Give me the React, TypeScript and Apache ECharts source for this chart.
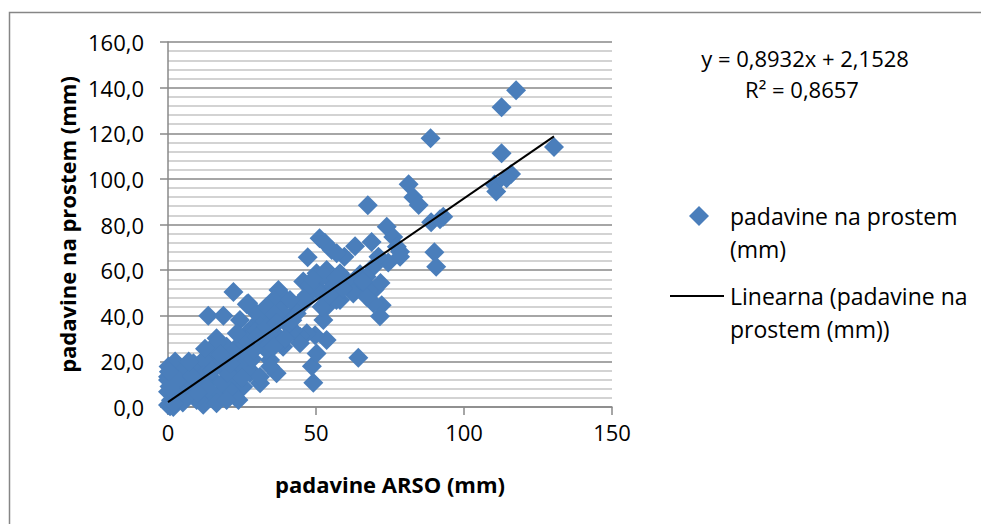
import React, { useEffect, useRef } from "react";
import * as echarts from "echarts";

// padavine ARSO (mm) — x values
const arsoMm: number[] = [
  117.6, 112.7, 88.7, 130.4, 112.7, 115.9, 114.4, 110.3, 110.9, 81.3, 82.9, 84.7, 67.5, 73.9, 88.9, 91.9, 93.0,
  76.1, 77.3, 78.4, 78.4, 74.4, 71.1, 68.8, 63.2, 59.6, 51.2, 53.0, 55.3, 57.0, 47.2, 90.0, 90.6, 69.8, 71.8,
  72.2, 71.6, 69.4, 64.3, 49.1, 48.6, 50.2, 53.6, 49.7, 46.9, 44.6, 42.3,
  45.7, 50.2, 53.6, 55.8, 51.4, 58.1, 53.6, 52.5, 64.9, 60.4, 69.4, 67.7, 62.6, 67.1, 63.7, 61.5, 52.5, 58.1,
  61.5, 55.8, 50.2, 46.9, 51.9, 56.9, 62.6, 67.1, 43.5, 46.9, 48.0, 54.5, 59.0, 57.0, 49.0, 66.0, 44.0,
  37.3, 40.1, 36.1, 32.2, 27.1, 22.1, 24.3, 28.8, 31.1, 34.5, 37.8, 36.1, 38.9, 36.7, 34.5, 31.1, 27.7, 26.0,
  23.2, 22.6, 19.8, 13.6, 18.7, 35.6, 26.6, 30.0, 33.3, 41.2, 43.5, 39.0, 35.6, 31.1, 26.6, 41.2, 44.6, 37.8,
  33.3, 38.0, 28.0, 30.0, 33.0, 40.5, 36.0, 42.0, 29.5, 24.5, 34.0, 39.5,
  16.4, 19.8, 15.3, 11.9, 9.7, 6.3, 1.8, 0.0, 2.9, 8.5, 13.1, 17.6, 11.9, 0.7, 23.2, 26.6, 31.1, 0.2, 2.4,
  0.0, 0.0, 0.0, 1.8, 5.2, 8.6, 11.9, 16.4, 20.9, 27.7, 31.1, 25.4, 21.5, 16.4, 9.7, 6.9, 4.1, 10.8, 14.8,
  18.1, 7.4, 23.8, 34.5, 35.6, 26.6, 23.2, 30.0, 33.3, 36.7, 19.8, 1.0, 3.5, 5.0, 12.0, 20.0, 17.0, 22.0,
  13.5, 3.0, 8.0, 15.0, 0.5, 2.0, 10.0, 25.0, 21.0, 18.0, 28.5, 29.0, 12.5, 7.0, 0.3,
];

// padavine na prostem (mm) — y values
const prostemMm: number[] = [
  138.8, 131.4, 117.8, 114.0, 111.2, 102.1, 100.3, 97.5, 94.5, 97.6, 92.0, 88.6, 88.4, 79.0, 81.0, 82.3, 83.4,
  74.5, 70.3, 68.1, 65.9, 63.3, 65.9, 72.3, 70.5, 65.9, 74.0, 72.0, 68.8, 67.4, 65.6, 67.8, 61.5, 51.5, 54.4,
  44.6, 39.8, 45.5, 21.6, 10.6, 17.9, 23.5, 29.4, 31.4, 32.3, 30.8, 33.6,
  55.0, 58.6, 60.1, 54.2, 51.3, 46.9, 44.0, 38.1, 58.2, 54.9, 61.5, 51.3, 50.5, 57.1, 54.2, 51.3, 57.9, 58.6,
  54.2, 52.7, 51.3, 46.9, 44.0, 46.9, 49.8, 48.3, 42.5, 49.1, 53.5, 49.0, 52.0, 56.5, 56.0, 55.0, 45.0,
  51.3, 46.9, 45.5, 42.5, 45.5, 50.4, 38.1, 35.2, 38.1, 36.7, 38.1, 32.3, 26.4, 14.8, 20.6, 10.4, 14.8, 22.0,
  17.7, 4.5, 8.9, 40.0, 40.0, 46.9, 45.0, 41.0, 44.0, 46.9, 41.0, 39.6, 36.7, 35.2, 32.3, 32.3, 27.9, 27.9,
  25.0, 42.0, 30.0, 28.0, 30.5, 36.0, 40.5, 38.0, 33.0, 28.0, 33.0, 30.0,
  30.1, 26.4, 23.5, 19.2, 17.7, 14.8, 17.7, 13.3, 8.9, 7.5, 4.5, 6.0, 1.0, 0.3, 11.8, 29.4, 29.4, 17.7, 19.9,
  11.8, 6.7, 0.9, 0.0, 16.2, 19.2, 20.6, 27.9, 21.3, 16.2, 13.3, 8.9, 6.7, 1.6, 3.1, 5.3, 7.5, 10.4, 12.6,
  10.4, 11.1, 3.1, 17.7, 26.4, 22.0, 32.3, 30.8, 35.2, 36.7, 3.1, 3.0, 12.0, 2.0, 14.0, 15.0, 18.5, 24.0,
  8.0, 5.0, 13.5, 16.0, 9.0, 1.5, 6.0, 13.0, 19.0, 23.0, 21.0, 25.0, 25.5, 20.0, 15.5,
];

// linear trend (as given on the chart)
const trendSlope = 0.8932;
const trendIntercept = 2.1528;
const trendR2 = 0.8657;

const yTicks = [0, 20, 40, 60, 80, 100, 120, 140, 160];
const xTicks = [0, 50, 100, 150];

const seriesName = "padavine na prostem (mm)";
const trendName = "Linearna (padavine na prostem (mm))";

const FONT = "'Open Sans', sans-serif";
const comma = (v: number, d: number) => v.toFixed(d).replace(".", ",");

export default function App() {
  const ref = useRef<HTMLDivElement>(null);
  useEffect(() => {
    if (!ref.current) return;
    const chart = echarts.init(ref.current, null, { renderer: "svg" });
    const points = arsoMm.map((x, i) => [x, prostemMm[i]]);
    const xMin = Math.min(...arsoMm);
    const xMax = Math.max(...arsoMm);
    const trend = [
      [xMin, trendSlope * xMin + trendIntercept],
      [xMax, trendSlope * xMax + trendIntercept],
    ];
    const gridColor = "#888888";
    const legendText = { fontSize: 23, fontFamily: FONT, fill: "#000", verticalAlign: "middle" };
    chart.setOption({
      animation: false,
      backgroundColor: "#ffffff",
      textStyle: { fontFamily: FONT },
      grid: { left: 168, right: 369, top: 42, bottom: 117, containLabel: false },
      xAxis: {
        type: "value",
        min: xTicks[0],
        max: xTicks[xTicks.length - 1],
        interval: xTicks[1] - xTicks[0],
        axisLine: { show: true, lineStyle: { color: gridColor, width: 1.5 } },
        axisTick: { show: true, length: 8, lineStyle: { color: gridColor, width: 1.5 } },
        axisLabel: { fontSize: 22, color: "#000", fontFamily: FONT, margin: 14 },
        splitLine: { show: false },
        name: "padavine ARSO (mm)",
        nameLocation: "middle",
        nameGap: 66,
        nameTextStyle: { fontSize: 22, fontWeight: "bold", color: "#000", fontFamily: FONT },
      },
      yAxis: {
        type: "value",
        min: yTicks[0],
        max: yTicks[yTicks.length - 1],
        interval: yTicks[1] - yTicks[0],
        axisLine: { show: true, lineStyle: { color: gridColor, width: 1.5 } },
        axisTick: { show: true, length: 8, lineStyle: { color: gridColor, width: 1.5 } },
        axisLabel: {
          fontSize: 22,
          color: "#000",
          fontFamily: FONT,
          margin: 24,
          formatter: (v: number) => comma(v, 1),
        },
        splitLine: { show: true, lineStyle: { color: gridColor, width: 1.5 } },
        minorTick: { show: false, splitNumber: 5 },
        minorSplitLine: { show: true, lineStyle: { color: "#c4c4c4", width: 1.5 } },
        name: "padavine na prostem (mm)",
        nameLocation: "middle",
        nameGap: 90,
        nameRotate: 90,
        nameTextStyle: { fontSize: 22, fontWeight: "bold", color: "#000", fontFamily: FONT },
      },
      series: [
        {
          name: seriesName,
          type: "scatter",
          symbol: "diamond",
          symbolSize: 20,
          itemStyle: { color: "#4a7ebb", opacity: 1 },
          data: points,
          z: 2,
        },
        {
          name: trendName,
          type: "line",
          data: trend,
          symbol: "none",
          lineStyle: { color: "#000", width: 2 },
          z: 3,
        },
      ],
      graphic: [
        {
          type: "rect",
          shape: { x: 9.5, y: 12.5, width: 1100, height: 700 },
          style: { fill: "none", stroke: "#868686", lineWidth: 1.5 },
          silent: true,
        },
        {
          type: "text",
          x: 805,
          y: 58,
          style: {
            text: `y = ${comma(trendSlope, 4)}x + ${comma(trendIntercept, 4)}`,
            fontSize: 22,
            fontFamily: FONT,
            fill: "#000",
            align: "center",
            verticalAlign: "middle",
          },
        },
        {
          type: "text",
          x: 802,
          y: 89,
          style: {
            text: `R² = ${comma(trendR2, 4)}`,
            fontSize: 22,
            fontFamily: FONT,
            fill: "#000",
            align: "center",
            verticalAlign: "middle",
          },
        },
        {
          type: "polygon",
          shape: { points: [[699, 206], [709, 216], [699, 226], [689, 216]] },
          style: { fill: "#4a7ebb" },
        },
        { type: "text", x: 730, y: 216, style: { ...legendText, text: "padavine na prostem" } },
        { type: "text", x: 730, y: 249, style: { ...legendText, text: "(mm)" } },
        {
          type: "line",
          shape: { x1: 670, y1: 296, x2: 724, y2: 296 },
          style: { stroke: "#000", lineWidth: 2 },
        },
        { type: "text", x: 730, y: 296, style: { ...legendText, text: "Linearna (padavine na" } },
        { type: "text", x: 730, y: 329, style: { ...legendText, text: "prostem (mm))" } },
      ],
    });
    return () => chart.dispose();
  }, []);
  return (
    <div
      ref={ref}
      style={{ position: "fixed", left: 0, top: 0, width: 981, height: 524, background: "#fff" }}
    />
  );
}
